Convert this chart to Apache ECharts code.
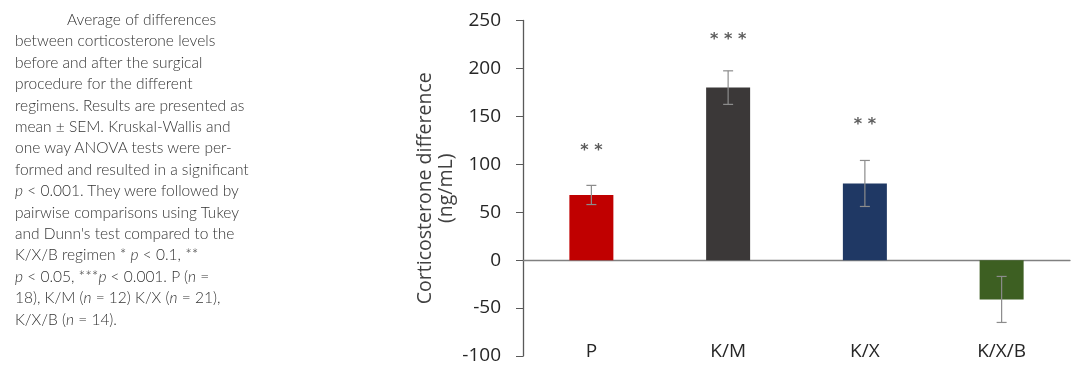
<!DOCTYPE html>
<html>
<head>
<meta charset="utf-8">
<script src="https://cdn.jsdelivr.net/npm/echarts@6/dist/echarts.min.js"></script>
<style>
  html, body { margin: 0; padding: 0; background: #fff; }
  #wrap { position: relative; width: 1080px; height: 377px; }
  #chart { position: absolute; left: 0; top: 0; width: 1080px; height: 377px; }
  #caption {
    position: absolute; left: 15px; top: 9px; width: 250px;
    font-family: Lato, "Open Sans", sans-serif; font-weight: 300;
    font-size: 15.5px; line-height: 21.4px; color: #333;
  }
  #caption .ind { padding-left: 52px; }
</style>
</head>
<body>
<div id="wrap">
  <div id="chart"></div>
  <div id="caption">
    <span class="ind">Average of differences</span><br>
    between corticosterone levels<br>
    before and after the surgical<br>
    procedure for the different<br>
    regimens. Results are presented as<br>
    mean ± SEM. Kruskal-Wallis and<br>
    one way ANOVA tests were per-<br>
    formed and resulted in a significant<br>
    <i>p</i> &lt; 0.001. They were followed by<br>
    pairwise comparisons using Tukey<br>
    and Dunn's test compared to the<br>
    K/X/B regimen * <i>p</i> &lt; 0.1, **<br>
    <i>p</i> &lt; 0.05, ***<i>p</i> &lt; 0.001. P (<i>n</i> =<br>
    18), K/M (<i>n</i> = 12) K/X (<i>n</i> = 21),<br>
    K/X/B (<i>n</i> = 14).
  </div>
</div>
<script>
// data
const categories = ["P", "K/M", "K/X", "K/X/B"]
const means = [68, 180, 80, -41]
const sem = [10, 17.5, 24, 24]
const stars = ["* *", "* * *", "* *", ""]
const starY = [114, 230, 141, null]
const colors = ["#c00000", "#3b3838", "#1f3864", "#3d5f22"]

const chart = echarts.init(document.getElementById("chart"), null, {renderer: "canvas"})

const errData = means.map((m, i) => [i, m - sem[i], m + sem[i]])
const font = "'Open Sans', sans-serif"

chart.setOption({
  animation: false,
  grid: {left: 523, right: 10, top: 20.5, bottom: 21},
  xAxis: [
    {
      type: "category",
      data: categories,
      axisLine: {onZero: true, lineStyle: {color: "#808080", width: 1.3}},
      axisTick: {show: false},
      axisLabel: {show: false}
    },
    {
      type: "category",
      data: categories,
      position: "bottom",
      axisLine: {show: false, onZero: false},
      axisTick: {show: false},
      axisLabel: {color: "#262626", fontSize: 19, margin: -14, fontFamily: font}
    }
  ],
  yAxis: {
    type: "value",
    min: -100, max: 250, interval: 50,
    name: "Corticosterone difference\n(ng/mL)",
    nameLocation: "middle",
    nameGap: 66,
    nameMoveOverlap: false,
    nameTextStyle: {color: "#404040", fontSize: 19.5, lineHeight: 21, fontFamily: font},
    splitLine: {show: false},
    axisLine: {show: true, lineStyle: {color: "#595959", width: 1.3}},
    axisTick: {show: true, length: 7, lineStyle: {color: "#595959"}},
    axisLabel: {color: "#262626", fontSize: 19, margin: 22, fontFamily: font}
  },
  series: [
    {
      type: "bar",
      data: means.map((v, i) => ({value: v, itemStyle: {color: colors[i]}})),
      barWidth: 44
    },
    {
      type: "custom",
      data: errData,
      z: 5,
      renderItem: function (params, api) {
        const x = api.coord([api.value(0), 0])[0]
        const lo = api.coord([api.value(0), api.value(1)])[1]
        const hi = api.coord([api.value(0), api.value(2)])[1]
        const w = 5
        const style = {stroke: "#8c8c8c", lineWidth: 1.2}
        return {
          type: "group",
          children: [
            {type: "line", shape: {x1: x, y1: lo, x2: x, y2: hi}, style: style},
            {type: "line", shape: {x1: x - w, y1: lo, x2: x + w, y2: lo}, style: style},
            {type: "line", shape: {x1: x - w, y1: hi, x2: x + w, y2: hi}, style: style}
          ]
        }
      }
    },
    {
      type: "scatter",
      symbolSize: 0,
      data: starY.map((v, i) => [i, v]),
      label: {
        show: true,
        position: "inside",
        formatter: p => stars[p.dataIndex],
        color: "#333",
        fontSize: 16,
        fontWeight: "bold",
        fontFamily: "'DejaVu Sans', sans-serif"
      }
    }
  ]
})
</script>
</body>
</html>
